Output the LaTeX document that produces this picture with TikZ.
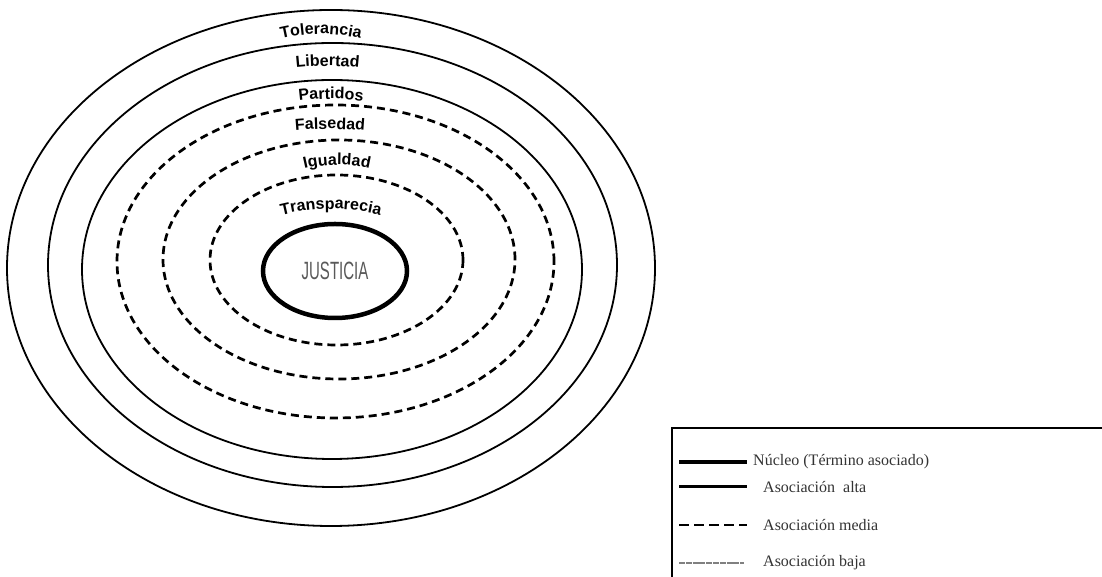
\documentclass[tikz,border=0pt]{standalone}
\usepackage{fontspec}
\setmainfont{Liberation Serif}
\newfontfamily\lsans{Liberation Sans}
\usetikzlibrary{decorations.text,shapes.geometric}
\newcommand\lblfont{\lsans\bfseries\fontsize{16}{16}\selectfont}
% #1 cx, #2 baseline Y, #3 radius, #4 half angle, #5 text
\newcommand\arclabel[5]{%
  \path[decorate,decoration={text along path,text align=center,text={|\lblfont|#5}}]
    ([shift={(90+#4:#3)}]#1,#2-#3) arc[start angle=90+#4,end angle=90-#4,radius=#3];}
\tikzset{
  ringsolid/.style={draw=black,line width=1.8pt},
  ringdash/.style={draw=black,line width=2.7pt,dash pattern=on 8pt off 5pt},
  corering/.style={draw=black,line width=4.5pt},
  legtext/.style={anchor=west,inner sep=0pt,text=black!80,font=\fontsize{16}{16}\selectfont},
}
\begin{document}
\begin{tikzpicture}[x=1pt,y=1pt]
\useasboundingbox (0,0) rectangle (1102,577);
\fill[white] (0,0) rectangle (1102,577);
% rings
\draw[ringsolid] (331,309) ellipse [x radius=324, y radius=258];
\draw[ringsolid] (332.5,312) ellipse [x radius=284.5, y radius=222];
\draw[ringsolid] (332,307.5) ellipse [x radius=250, y radius=189.5];
\draw[ringdash] (335.5,315.5) ellipse [x radius=218.5, y radius=156.5];
\draw[ringdash] (339,317.5) ellipse [x radius=176, y radius=119.5];
\draw[ringdash] (336.5,317) ellipse [x radius=126.5, y radius=85];
% core
\node[ellipse,corering,minimum width=144pt,minimum height=94pt,inner sep=0pt] (core) at (335,306)
  {\textcolor{black!65}{\scalebox{0.6}[1]{\lsans\fontsize{25}{25}\selectfont JUSTICIA}}};
% labels
\arclabel{321}{543}{170}{35}{Tolerancia}
\arclabel{327.5}{511}{300}{20}{Libertad}
\arclabel{331}{478}{250}{20}{Partidos}
\arclabel{330}{448}{400}{15}{Falsedad}
\arclabel{337}{412}{140}{45}{Igualdad}
\arclabel{331}{368}{200}{35}{Transparecia}
% legend box
\coordinate (boxtr) at (1110,149);
\coordinate (boxtl) at (672,149);
\coordinate (boxbl) at (672,-10);
\draw[line width=1.8pt] (boxtr) -- (boxtl) -- (boxbl);
% legend entries
\coordinate (l1a) at (679,115); \coordinate (l1b) at (747,115);
\coordinate (l2a) at (679,90);  \coordinate (l2b) at (747,90);
\coordinate (l3a) at (679,52);  \coordinate (l3b) at (747,52);
\coordinate (l4a) at (679,14);  \coordinate (l4b) at (744,14);
\draw[line width=4pt] (l1a) -- (l1b);
\draw[line width=3pt] (l2a) -- (l2b);
\draw[line width=2pt,dash pattern=on 10pt off 5pt] (l3a) -- (l3b);
\draw[line width=1.2pt,gray,dash pattern=on 6pt off 0.8pt] (l4a) -- (l4b);
\node[legtext] (t1) at (753,115) {Núcleo (Término asociado)};
\node[legtext] (t2) at (763,90) {Asociación\ \ alta};
\node[legtext] (t3) at (763,52) {Asociación media};
\node[legtext] (t4) at (763,14) {Asociación baja};
\end{tikzpicture}
\end{document}
